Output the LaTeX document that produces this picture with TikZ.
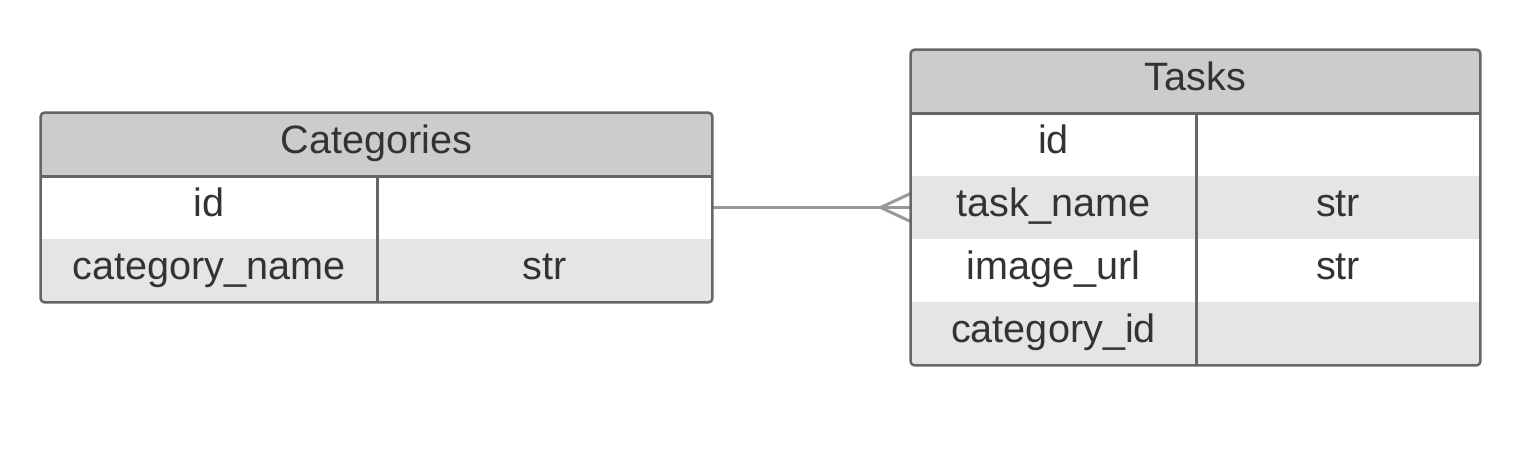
\documentclass[tikz,border=0pt]{standalone}
\usepackage{fontspec}
\setmainfont{Liberation Sans}

\definecolor{ink}{HTML}{333333}
\definecolor{headgray}{HTML}{CCCCCC}
\definecolor{rowgray}{HTML}{E5E5E5}
\definecolor{edgegray}{HTML}{666666}
\definecolor{linkgray}{HTML}{999999}

\tikzset{
  cell/.style={minimum height=31.5pt, inner sep=0pt, text height=14pt, text depth=5.4pt,
    font=\fontsize{19.8}{24}\selectfont, text=ink},
  headcell/.style={cell, fill=headgray},
  stripecell/.style={cell, fill=rowgray},
  plaincell/.style={cell, fill=white},
  frame/.style={draw=edgegray, line width=1.25pt, rounded corners=2pt},
  rule/.style={draw=edgegray, line width=1.25pt},
  link/.style={draw=linkgray, line width=1.5pt},
}

\begin{document}
\begin{tikzpicture}[x=0.5pt,y=-0.5pt]
   \useasboundingbox (0,0) rectangle (1540,460);

   % Categories
   \node[headcell, minimum width=335.5pt] (cathead) at (376.5,144.5) {Categories};
   \node[plaincell, minimum width=168pt] (catid) at (209,207.5) {id};
   \node[plaincell, minimum width=167.5pt] (catidtype) at (544.5,207.5) {};
   \node[stripecell, minimum width=168pt] (catname) at (209,270.5) {category\_name};
   \node[stripecell, minimum width=167.5pt] (catnametype) at (544.5,270.5) {str};

   % Tasks
   \node[headcell, minimum width=284.5pt] (taskhead) at (1195.5,81.5) {Tasks};
   \node[plaincell, minimum width=142.5pt] (taskid) at (1053.5,144.5) {id};
   \node[plaincell, minimum width=142pt] (taskidtype) at (1338,144.5) {};
   \node[stripecell, minimum width=142.5pt] (taskname) at (1053.5,207.5) {task\_name};
   \node[stripecell, minimum width=142pt] (tasknametype) at (1338,207.5) {str};
   \node[plaincell, minimum width=142.5pt] (taskimg) at (1053.5,270.5) {image\_url};
   \node[plaincell, minimum width=142pt] (taskimgtype) at (1338,270.5) {str};
   \node[stripecell, minimum width=142.5pt] (taskcat) at (1053.5,333.5) {category\_id};
   \node[stripecell, minimum width=142pt] (taskcattype) at (1338,333.5) {};

   % one category, many tasks
   \draw[link] (catidtype.east) -- (taskname.west);
   \coordinate (crow) at ([xshift=-15pt]taskname.west);
   \draw[link] ([yshift=7pt]taskname.west) -- (crow) -- ([yshift=-7pt]taskname.west);

   \draw[rule] (cathead.south west) -- (cathead.south east);
   \draw[rule] (catid.north east) -- (catname.south east);
   \draw[frame] (cathead.north west) rectangle (catnametype.south east);

   \draw[rule] (taskhead.south west) -- (taskhead.south east);
   \draw[rule] (taskid.north east) -- (taskcat.south east);
   \draw[frame] (taskhead.north west) rectangle (taskcattype.south east);
\end{tikzpicture}
\end{document}
